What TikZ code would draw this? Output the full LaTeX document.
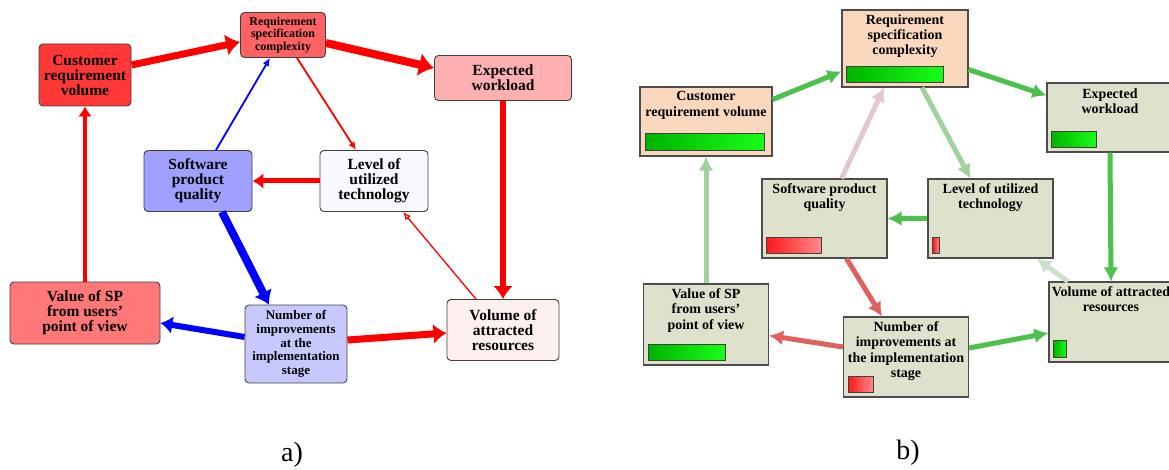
\documentclass[tikz,border=0pt]{standalone}
\usepackage{fontspec}
\setmainfont{Liberation Serif}
\usepackage{tikz}
\usetikzlibrary{arrows.meta,positioning,shadings}
% panel a colours
\definecolor{acust}{RGB}{255,55,55}
\definecolor{areq}{RGB}{255,98,98}
\definecolor{aexp}{RGB}{255,176,176}
\definecolor{aswq}{RGB}{160,160,255}
\definecolor{alev}{RGB}{248,248,255}
\definecolor{aval}{RGB}{255,120,120}
\definecolor{anum}{RGB}{200,200,255}
\definecolor{avol}{RGB}{255,240,240}
% panel b colours
\definecolor{bpeach}{RGB}{250,216,190}
\definecolor{bgrey}{RGB}{222,225,203}
\definecolor{bgreen}{RGB}{76,194,76}
\definecolor{blgreen}{RGB}{160,210,160}
\definecolor{bvlgreen}{RGB}{200,225,200}
\definecolor{bred}{RGB}{224,96,96}
\definecolor{bpink}{RGB}{226,200,200}
\definecolor{bardark}{RGB}{0,180,0}
\definecolor{barlight}{RGB}{24,255,24}
\definecolor{rbardark}{RGB}{255,26,26}
\definecolor{rbarlight}{RGB}{255,138,138}
\tikzstyle{abox} = [rectangle, rounded corners=4pt, draw=black!75, line width=0.9pt, align=center, inner sep=0pt, font=\fontsize{15.5}{15}\selectfont\bfseries]
\tikzstyle{asmall} = [font=\fontsize{12}{12.7}\selectfont\bfseries]
\tikzstyle{bbox} = [rectangle, draw=black!70, line width=1.1pt, inner sep=0pt]
\tikzstyle{btext} = [align=center, inner sep=0pt, anchor=north, font=\fontsize{14}{15.3}\selectfont\bfseries]
\tikzstyle{gbar} = [rectangle, draw=black!75, line width=0.8pt, left color=bardark, right color=barlight, minimum height=16pt, inner sep=0pt, anchor=south west]
\tikzstyle{rbar} = [gbar, left color=rbardark, right color=rbarlight]
\tikzstyle{ared} = [draw=red]
\tikzstyle{ablue} = [draw=blue]
\tikzstyle{barrow} = [line width=5pt, -{Latex[length=14pt,width=15pt]}]

\begin{document}
\begin{tikzpicture}[x=1pt, y=-1pt]
\clip (0,0) rectangle (1169,470);
\fill[white] (0,0) rectangle (1169,470);

% Panel a - boxes
\node (cust) [abox, minimum width=92pt, minimum height=62pt, fill=acust] at (85,75) {Customer\\requirement\\volume};
\node (req) [abox, asmall, minimum width=85pt, minimum height=45pt, fill=areq] at (283,35) {Requirement\\specification\\complexity};
\node (exp) [abox, minimum width=137pt, minimum height=45pt, fill=aexp] at (503,78) {Expected\\workload};
\node (swq) [abox, minimum width=108pt, minimum height=61pt, fill=aswq] at (198,181) {Software\\product\\quality};
\node (lev) [abox, minimum width=108pt, minimum height=61pt, fill=alev] at (374,181) {Level of\\utilized\\technology};
\node (val) [abox, minimum width=150pt, minimum height=62pt, fill=aval] at (85,313) {Value of SP\\from users’\\point of view};
\node (num) [abox, font=\fontsize{13}{13.6}\selectfont\bfseries, minimum width=102pt, minimum height=78pt, fill=anum] at (296,344) {Number of\\improvements\\at the\\implementation\\stage};
\node (vol) [abox, minimum width=112pt, minimum height=61pt, fill=avol] at (503,330) {Volume of\\attracted\\resources};

% Panel a - arrows
\draw[ared, line width=7pt, -{Latex[length=14pt,width=22pt]}] ([yshift=10pt]cust.east) -- ([yshift=-7pt]req.west);
\draw[ared, line width=8pt, -{Latex[length=15pt,width=24pt]}] ([yshift=-8pt]req.east) -- ([yshift=10pt]exp.west);
\draw[ared, line width=6pt, -{Latex[length=13pt,width=20pt]}] (exp.south) -- (vol.north);
\draw[ared, line width=1.8pt, -{Latex[length=8pt,width=7pt]}] ([xshift=14pt]req.south) -- ([xshift=-18pt]lev.north);
\draw[ared, line width=5pt, -{Latex[length=11pt,width=16pt]}] (lev.west) -- (swq.east);
\draw[ablue, line width=1.8pt, -{Latex[open,length=8pt,width=7pt]}] ([xshift=18pt]swq.north) -- ([xshift=-13pt]req.south);
\draw[ablue, line width=8pt, -{Latex[length=13pt,width=20pt]}] ([xshift=24pt]swq.south) -- ([xshift=-27pt]num.north);
\draw[ablue, line width=6pt, -{Latex[length=12pt,width=18pt]}] ([yshift=7pt]num.west) -- ([yshift=-10pt]val.east);
\draw[ared, line width=7pt, -{Latex[length=13pt,width=20pt]}] ([yshift=4pt]num.east) -- ([yshift=-3pt]vol.west);
\draw[ared, line width=1.3pt, -{Latex[open,length=8pt,width=7pt]}] ([xshift=-27pt]vol.north) -- ([xshift=29pt]lev.south);
\draw[ared, line width=4pt, -{Latex[length=10pt,width=14pt]}] (val.north) -- (cust.south);

\node (capa) [font=\fontsize{28}{32}\selectfont] at (292,455) {a)};

% Panel b - boxes
\node (breq) [bbox, minimum width=126pt, minimum height=77pt, fill=bpeach] at (905,48.5) {};
\node (bcust) [bbox, minimum width=132pt, minimum height=69pt, fill=bpeach] at (706,121.5) {};
\node (bexp) [bbox, minimum width=126pt, minimum height=69pt, fill=bgrey] at (1110,117.5) {};
\node (bswq) [bbox, minimum width=125pt, minimum height=79pt, fill=bgrey] at (824.5,218.5) {};
\node (blev) [bbox, minimum width=125pt, minimum height=79pt, fill=bgrey] at (990.5,218.5) {};
\node (bval) [bbox, minimum width=125pt, minimum height=81pt, fill=bgrey] at (706,324.5) {};
\node (bnum) [bbox, minimum width=125pt, minimum height=80pt, fill=bgrey] at (906,357) {};
\node (bvol) [bbox, minimum width=124pt, minimum height=80pt, fill=bgrey] at (1111,322) {};

% Panel b - texts
\node (breq-t) [btext] at ([yshift=-5pt]breq.north) {Requirement\\specification\\complexity};
\node (bcust-t) [btext] at ([yshift=-5pt]bcust.north) {Customer\\requirement volume};
\node (bexp-t) [btext] at ([yshift=-6pt]bexp.north) {Expected\\workload};
\node (bswq-t) [btext] at ([yshift=-5pt]bswq.north) {Software product\\quality};
\node (blev-t) [btext] at ([yshift=-5pt]blev.north) {Level of utilized\\technology};
\node (bval-t) [btext] at ([yshift=-5pt]bval.north) {Value of SP\\from users’\\point of view};
\node (bnum-t) [btext] at ([yshift=-5pt]bnum.north) {Number of\\improvements at\\the implementation\\stage};
\node (bvol-t) [btext] at ([yshift=-5pt]bvol.north) {Volume of attracted\\resources};

% Panel b - bars
\node (breq-b) [gbar, minimum width=97pt] at ([shift={(5pt,5pt)}]breq.south west) {};
\node (bcust-b) [gbar, minimum width=119pt, minimum height=17pt] at ([shift={(6pt,6pt)}]bcust.south west) {};
\node (bexp-b) [gbar, minimum width=45pt] at ([shift={(5pt,5pt)}]bexp.south west) {};
\node (bswq-b) [rbar, minimum width=55pt] at ([shift={(5pt,5pt)}]bswq.south west) {};
\node (blev-b) [rbar, minimum width=6.5pt] at ([shift={(5pt,5pt)}]blev.south west) {};
\node (bval-b) [gbar, minimum width=77pt] at ([shift={(5pt,5pt)}]bval.south west) {};
\node (bnum-b) [rbar, minimum width=25pt] at ([shift={(5pt,5pt)}]bnum.south west) {};
\node (bvol-b) [gbar, minimum width=13pt, minimum height=17pt] at ([shift={(5pt,4.5pt)}]bvol.south west) {};

% Panel b - arrows
\draw[barrow, draw=bgreen, fill=bgreen] ([yshift=22pt]bcust.east) -- ([yshift=-23pt]breq.west);
\draw[barrow, draw=bgreen, fill=bgreen] ([yshift=-21pt]breq.east) -- ([yshift=22pt]bexp.west);
\draw[barrow, draw=blgreen, fill=blgreen] ([xshift=17pt]breq.south) -- ([xshift=-20pt]blev.north);
\draw[barrow, draw=bpink, fill=bpink] ([xshift=17pt]bswq.north) -- ([xshift=-21pt]breq.south);
\draw[barrow, draw=bgreen, fill=bgreen] (blev.west) -- (bswq.east);
\draw[barrow, draw=bgreen, fill=bgreen] (bexp.south) -- (bvol.north);
\draw[barrow, draw=bvlgreen, fill=bvlgreen] ([xshift=-43pt]bvol.north) -- ([xshift=46pt]blev.south);
\draw[barrow, draw=bred, fill=bred] ([xshift=22pt]bswq.south) -- ([xshift=-24pt]bnum.north);
\draw[barrow, draw=bred, fill=bred] ([yshift=10pt]bnum.west) -- ([yshift=-11pt]bval.east);
\draw[barrow, draw=bgreen, fill=bgreen] ([yshift=9pt]bnum.east) -- ([yshift=-11pt]bvol.west);
\draw[barrow, draw=blgreen, fill=blgreen] (bval.north) -- (bcust.south);

\node (capb) [font=\fontsize{28}{32}\selectfont] at (908,453) {b)};
\end{tikzpicture}
\end{document}
